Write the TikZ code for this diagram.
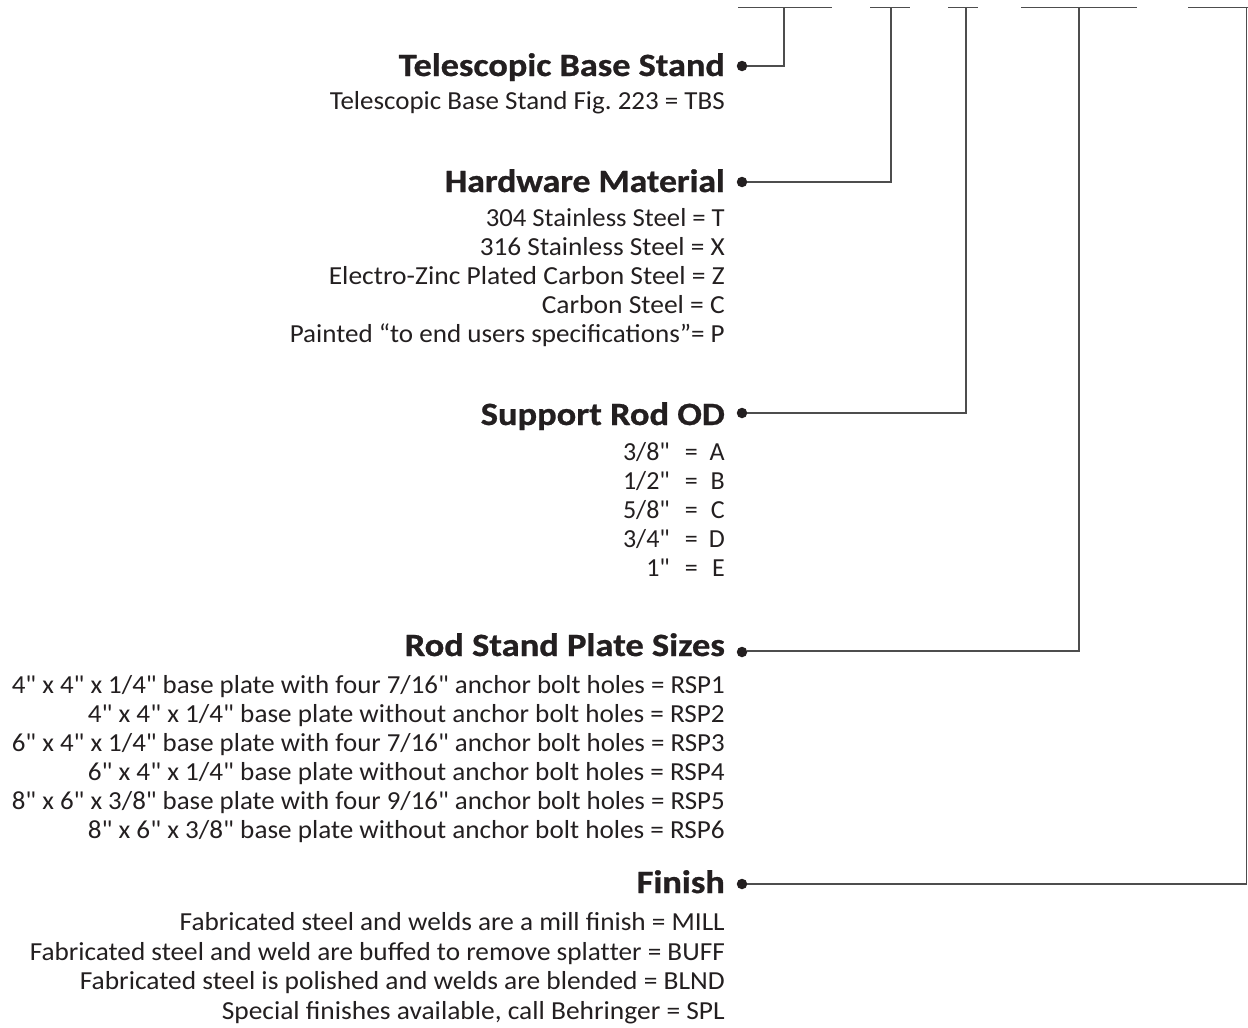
\documentclass[tikz,border=0pt]{standalone}
\usepackage{fontspec}
\setmainfont{Carlito}[Ligatures=TeXOff, BoldFeatures={FakeBold=0.8}]
\usepackage{graphicx}
\definecolor{ink}{HTML}{231F20}
\definecolor{wirec}{HTML}{4D4D4D}
\newcommand\fw[2]{\resizebox{#1pt}{\height}{#2}}
\newcommand\rodline[2]{#1\hspace{15pt}=\hspace{11pt}\makebox[16pt][r]{#2}}
\frenchspacing
\begin{document}
\begin{tikzpicture}[x=1pt,y=-1pt,
  head/.style={anchor=base east, inner sep=0pt, font=\fontsize{32.5}{36}\selectfont\bfseries, text=ink},
  body/.style={anchor=base east, inner sep=0pt, font=\fontsize{26}{29}\selectfont, text=ink},
  dot/.style={circle, fill=ink, inner sep=0pt, minimum size=10.5pt},
  wire/.style={draw=wirec, line width=1.3pt},
]
\useasboundingbox (0,0) rectangle (1248,1028);

% ---------- Telescopic Base Stand
\node[head] (h1) at (725,76) {\fw{326}{Telescopic Base Stand}};
\node[body] (b11) at (725,109) {\fw{395}{Telescopic Base Stand Fig. 223 = TBS}};

% ---------- Hardware Material
\node[head] (h2) at (725,192) {\fw{280}{Hardware Material}};
\node[body] (b21) at (725,226) {\fw{239}{304 Stainless Steel = T}};
\node[body] (b22) at (725,255) {\fw{245}{316 Stainless Steel = X}};
\node[body] (b23) at (725,284) {\fw{396}{Electro-Zinc Plated Carbon Steel = Z}};
\node[body] (b24) at (725,313) {\fw{183}{Carbon Steel = C}};
\node[body] (b25) at (725,342) {\fw{435}{Painted “to end users specifica\kern0pt tions”= P}};

% ---------- Support Rod OD
\node[head] (h3) at (725,425) {\fw{244}{Support Rod OD}};
\node[body] (b31) at (725,460) {\rodline{3/8"}{A}};
\node[body] (b32) at (725,489) {\rodline{1/2"}{B}};
\node[body] (b33) at (725,518) {\rodline{5/8"}{C}};
\node[body] (b34) at (725,547) {\rodline{3/4"}{D}};
\node[body] (b35) at (725,576) {\rodline{1"}{E}};

% ---------- Rod Stand Plate Sizes
\node[head] (h4) at (725,656) {\fw{320}{Rod Stand Plate Sizes}};
\node[body] (b41) at (725,693) {\fw{713}{4" x 4" x 1/4" base plate with four 7/16" anchor bolt holes = RSP1}};
\node[body] (b42) at (725,722) {\fw{637}{4" x 4" x 1/4" base plate without anchor bolt holes = RSP2}};
\node[body] (b43) at (725,751) {\fw{713}{6" x 4" x 1/4" base plate with four 7/16" anchor bolt holes = RSP3}};
\node[body] (b44) at (725,780) {\fw{637}{6" x 4" x 1/4" base plate without anchor bolt holes = RSP4}};
\node[body] (b45) at (725,809) {\fw{713}{8" x 6" x 3/8" base plate with four 9/16" anchor bolt holes = RSP5}};
\node[body] (b46) at (725,838) {\fw{637}{8" x 6" x 3/8" base plate without anchor bolt holes = RSP6}};

% ---------- Finish
\node[head] (h5) at (725,893) {\fw{88}{Finish}};
\node[body] (b51) at (725,930) {\fw{545}{Fabricated steel and welds are a mill finish = MILL}};
\node[body] (b52) at (725,960) {\fw{695}{Fabricated steel and weld are buffed to remove splat\kern0pt ter = BUFF}};
\node[body] (b53) at (725,989) {\fw{645}{Fabricated steel is polished and welds are blended = BLND}};
\node[body] (b54) at (725,1019) {\fw{503}{Special finishes available, call Behringer = SPL}};

% ---------- dots
\node[dot] (d1) at (742,66) {};
\node[dot] (d2) at (742,182) {};
\node[dot] (d3) at (742,413) {};
\node[dot] (d4) at (742,652) {};
\node[dot] (d5) at (742,884) {};

% ---------- top code segments
\coordinate (t1a) at (738,7.5);  \coordinate (t1b) at (832,7.5);  \coordinate (t1) at (784,7.5);
\coordinate (t2a) at (870,7.5);  \coordinate (t2b) at (910,7.5);  \coordinate (t2) at (891,7.5);
\coordinate (t3a) at (948,7.5);  \coordinate (t3b) at (978,7.5);  \coordinate (t3) at (966,7.5);
\coordinate (t4a) at (1021,7.5); \coordinate (t4b) at (1137,7.5); \coordinate (t4) at (1079,7.5);
\coordinate (t5a) at (1188,7.5); \coordinate (t5b) at (1248,7.5); \coordinate (t5) at (1246.5,7.5);

\draw[wire] (t1a) -- (t1b);
\draw[wire] (t2a) -- (t2b);
\draw[wire] (t3a) -- (t3b);
\draw[wire] (t4a) -- (t4b);
\draw[wire] (t5a) -- (t5b);

% ---------- connectors
\draw[wire] (d1) -| (t1);
\draw[wire] (d2) -| (t2);
\draw[wire] (d3) -| (t3);
\draw[wire] (d4.east) -- ++(0,-1) -| (t4);
\draw[wire] (d5) -| (t5);
\end{tikzpicture}
\end{document}
